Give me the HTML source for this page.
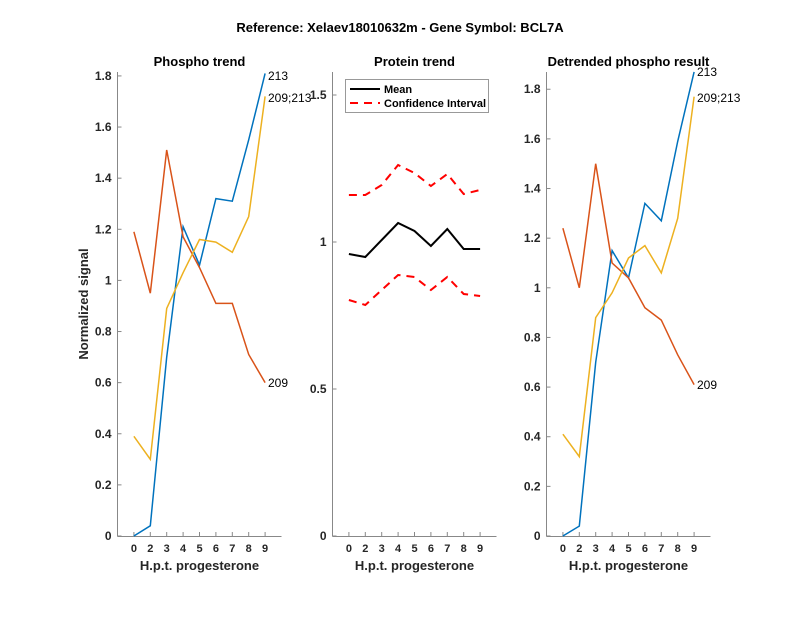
<!DOCTYPE html>
<html><head><meta charset="utf-8"><style>
html,body{margin:0;padding:0;background:#fff;}
svg{display:block;font-family:"Liberation Sans",Arial,sans-serif;}
</style></head><body>
<svg id="s" width="800" height="618" viewBox="0 0 800 618" xmlns="http://www.w3.org/2000/svg">
<rect width="800" height="618" fill="#fff"/>
<text x="400" y="32" font-size="13" font-weight="bold" text-anchor="middle" fill="#000">Reference:  Xelaev18010632m - Gene Symbol:  BCL7A</text>
<g id="g"></g>
</svg>
<script>
var g=document.getElementById('g');var h='';
var xl=['0','2','3','4','5','6','7','8','9'];
function axis(L,top,title,yt){
  var R=L+164;
  h+='<line x1="'+L+'" y1="'+top+'" x2="'+L+'" y2="536.5" stroke="#888" stroke-width="1"/>';
  h+='<line x1="'+L+'" y1="536.5" x2="'+R+'" y2="536.5" stroke="#888" stroke-width="1"/>';
  for(var i=1;i<=9;i++){var x=L+i*16.4;h+='<line x1="'+x+'" y1="536" x2="'+x+'" y2="532" stroke="#888"/>';
    h+='<text x="'+x+'" y="552" font-size="11" font-weight="bold" fill="#262626" text-anchor="middle">'+xl[i-1]+'</text>';}
  h+='<text x="'+(L+82)+'" y="570" font-size="13" font-weight="bold" fill="#262626" text-anchor="middle">H.p.t. progesterone</text>';
  h+='<text x="'+(L+82)+'" y="66" font-size="13" font-weight="bold" fill="#000" text-anchor="middle">'+title+'</text>';
  yt.forEach(function(t){h+='<line x1="'+L+'" y1="'+t[1]+'" x2="'+(L+4)+'" y2="'+t[1]+'" stroke="#888"/>';
    h+='<text x="'+(L-6)+'" y="'+(t[1]+4)+'" font-size="12" font-weight="bold" fill="#262626" text-anchor="end">'+t[0]+'</text>';});
}
function lab(v){return v==0?'0':(v==5?'1':(v*0.2).toFixed(1));}
function line(L,vals,k,col,extra){var p=[];vals.forEach(function(v,i){p.push((L+(i+1)*16.4).toFixed(1)+','+(k?(536-v*k):v).toFixed(1));});
  h+='<polyline points="'+p.join(' ')+'" fill="none" stroke="'+col+'" stroke-width="'+(extra&&extra.w||1.5)+'"'+(extra&&extra.d?' stroke-dasharray="'+extra.d+'"':'')+'/>';}
var B='#0072bd',O='#d95319',Y='#edb120';
var L1=117.5,k1=255.6,t1=[];for(var v=0;v<=9;v++){t1.push([lab(v),536-v*0.2*k1]);}
axis(L1,72,'Phospho trend',t1);
line(L1,[0,0.04,0.7,1.21,1.06,1.32,1.31,1.55,1.81],k1,B);
line(L1,[1.19,0.95,1.51,1.17,1.05,0.91,0.91,0.71,0.60],k1,O);
line(L1,[0.39,0.30,0.89,1.03,1.16,1.15,1.11,1.25,1.72],k1,Y);
h+='<text x="268" y="80" font-size="12" fill="#000">213</text>';
h+='<text x="268" y="102" font-size="12" fill="#000">209;213</text>';
h+='<text x="268" y="387" font-size="12" fill="#000">209</text>';
h+='<text x="88" y="304" font-size="13" font-weight="bold" fill="#262626" text-anchor="middle" transform="rotate(-90 88 304)">Normalized signal</text>';
var L2=332.5;
axis(L2,72,'Protein trend',[['0',536],['0.5',389],['1',242],['1.5',95]]);
line(L2,[195,195,185,165,173,186,174,194,190],0,'#ff0000',{w:2,d:'8 6'});
line(L2,[300,305,290,275,277,290,277,294,296],0,'#ff0000',{w:2,d:'8 6'});
line(L2,[254,257,240,223,231,246,229,249,249],0,'#000',{w:2});
h+='<rect x="345.5" y="79.5" width="143" height="33" fill="#fff" stroke="#999"/>';
h+='<line x1="350" y1="89" x2="380" y2="89" stroke="#000" stroke-width="2"/>';
h+='<text x="384" y="93" font-size="11" font-weight="bold" fill="#000">Mean</text>';
h+='<line x1="350" y1="103" x2="380" y2="103" stroke="#f00" stroke-width="2" stroke-dasharray="8 6"/>';
h+='<text x="384" y="107" font-size="11" font-weight="bold" fill="#000">Confidence Interval</text>';
var L3=546.5,k3=248.2,t3=[];for(var v=0;v<=9;v++){t3.push([lab(v),536-v*0.2*k3]);}
axis(L3,72,'Detrended phospho result',t3);
line(L3,[0,0.04,0.70,1.15,1.04,1.34,1.27,1.59,1.87],k3,B);
line(L3,[1.24,1.00,1.50,1.10,1.04,0.92,0.87,0.73,0.61],k3,O);
line(L3,[0.41,0.32,0.88,0.98,1.12,1.17,1.06,1.28,1.77],k3,Y);
h+='<text x="697" y="76" font-size="12" fill="#000">213</text>';
h+='<text x="697" y="102" font-size="12" fill="#000">209;213</text>';
h+='<text x="697" y="389" font-size="12" fill="#000">209</text>';
g.innerHTML=h;
</script>
</body></html>
